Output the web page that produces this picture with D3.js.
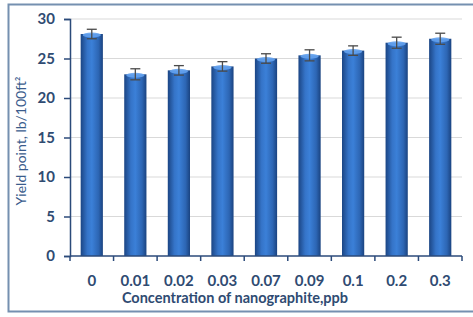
<!DOCTYPE html>
<html lang="en">
  <head>
    <meta charset="UTF-8" />
    <title>Yield point chart</title>
    <style>
      body { margin: 0; background: #fff; }
      text { font-family: Lato, "Open Sans", sans-serif; }
    </style>
  </head>
  <body>
    <svg id="svg" width="473" height="317"></svg>
    <script src="https://d3js.org/d3.v7.min.js"></script>
    <script>
      // values
      const concentrations = ["0", "0.01", "0.02", "0.03", "0.07", "0.09", "0.1", "0.2", "0.3"];
      const yieldPoint = [28.1, 23.0, 23.5, 24.0, 25.0, 25.4, 26.0, 27.0, 27.5];
      const errors = [0.6, 0.7, 0.6, 0.6, 0.6, 0.7, 0.6, 0.7, 0.7];
      const yTicks = [0, 5, 10, 15, 20, 25, 30];

      const svg = d3.select("#svg");
      const m = { left: 70, right: 11, top: 19, bottom: 61 };
      const W = 473, H = 317;

      // frame round the chart
      svg.append("path")
        .attr("d", `M ${W + 2} 4.5 H 8.5 V 311.5 H ${W + 2}`)
        .attr("fill", "none")
        .attr("stroke", "#7590b0")
        .attr("stroke-width", 2);

      const x = d3.scaleBand()
        .domain(concentrations)
        .range([m.left, W - m.right])
        .paddingInner(0.49)
        .paddingOuter(0.245);
      const y = d3.scaleLinear().domain([0, 30]).range([H - m.bottom, m.top]);

      // bar gradient, cylinder look
      const defs = svg.append("defs");
      const g = defs.append("linearGradient").attr("id", "bar").attr("x1", 0).attr("x2", 1);
      g.append("stop").attr("offset", "0%").attr("stop-color", "#1b4584");
      g.append("stop").attr("offset", "30%").attr("stop-color", "#3574c8");
      g.append("stop").attr("offset", "50%").attr("stop-color", "#3b80d8");
      g.append("stop").attr("offset", "80%").attr("stop-color", "#2d66b4");
      g.append("stop").attr("offset", "100%").attr("stop-color", "#1a4380");

      // gridlines
      svg.append("g")
        .selectAll("line")
        .data(yTicks.filter((t) => t > 0))
        .enter()
        .append("line")
        .attr("x1", m.left)
        .attr("x2", W - m.right)
        .attr("y1", (t) => y(t))
        .attr("y2", (t) => y(t))
        .attr("stroke", "#d9d9d9")
        .attr("stroke-width", 1);

      // bars
      const bars = svg.append("g")
        .selectAll("g")
        .data(concentrations)
        .enter()
        .append("g");
      bars.append("rect")
        .attr("x", (c) => x(c))
        .attr("width", x.bandwidth())
        .attr("y", (c, i) => y(yieldPoint[i]))
        .attr("height", (c, i) => y(0) - y(yieldPoint[i]))
        .attr("fill", "url(#bar)");
      bars.append("ellipse")
        .attr("cx", (c) => x(c) + x.bandwidth() / 2)
        .attr("cy", (c, i) => y(yieldPoint[i]) + 1)
        .attr("rx", x.bandwidth() / 2 - 2)
        .attr("ry", 2.5)
        .attr("fill", "#64a2ee")
        .attr("opacity", 0.9);

      // error bars
      const eb = svg.append("g").attr("stroke", "#4a4a4a").attr("stroke-width", 1.3);
      concentrations.forEach((c, i) => {
        const cx = x(c) + x.bandwidth() / 2;
        const top = y(yieldPoint[i] + errors[i]);
        const bot = y(yieldPoint[i] - errors[i]);
        eb.append("line").attr("x1", cx).attr("x2", cx).attr("y1", top).attr("y2", bot);
        eb.append("line").attr("x1", cx - 5).attr("x2", cx + 5).attr("y1", top).attr("y2", top);
        eb.append("line").attr("x1", cx - 5).attr("x2", cx + 5).attr("y1", bot).attr("y2", bot);
      });

      // y axis
      const yAxis = svg.append("g")
        .attr("transform", `translate(${m.left},0)`)
        .call(d3.axisLeft(y).tickValues(yTicks).tickSize(6).tickPadding(9));
      yAxis.select(".domain").attr("stroke", "#2b4a7a").attr("stroke-width", 1.5);
      yAxis.selectAll(".tick line").attr("stroke", "#2b4a7a").attr("stroke-width", 1.5);
      yAxis.selectAll("text")
        .attr("font-size", 15)
        .attr("font-weight", "bold")
        .attr("fill", "#2f4b72")
        .style("font-family", "Lato, sans-serif");

      // x axis, ticks between categories
      svg.append("line")
        .attr("x1", m.left).attr("x2", W - m.right)
        .attr("y1", y(0)).attr("y2", y(0))
        .attr("stroke", "#2b4a7a").attr("stroke-width", 1.5);
      const step = x.step();
      const bounds = d3.range(concentrations.length + 1).map((i) => m.left + i * step);
      svg.append("g")
        .selectAll("line")
        .data(bounds)
        .enter()
        .append("line")
        .attr("x1", (b) => b).attr("x2", (b) => b)
        .attr("y1", y(0)).attr("y2", y(0) + 5)
        .attr("stroke", "#2b4a7a").attr("stroke-width", 1.5);
      svg.append("g")
        .selectAll("text")
        .data(concentrations)
        .enter()
        .append("text")
        .attr("x", (c) => x(c) + x.bandwidth() / 2)
        .attr("y", y(0) + 30)
        .attr("text-anchor", "middle")
        .attr("font-size", 15)
        .attr("font-weight", "bold")
        .attr("fill", "#2f4b72")
        .text((c) => c);

      // axis titles
      svg.append("text")
        .attr("x", 235)
        .attr("y", 303)
        .attr("text-anchor", "middle")
        .attr("font-size", 14.5)
        .attr("font-weight", "bold")
        .attr("fill", "#2f4b72")
        .text("Concentration of nanographite,ppb");
      svg.append("text")
        .attr("transform", "translate(26,141) rotate(-90)")
        .attr("text-anchor", "middle")
        .attr("font-size", 14)
        .attr("fill", "#3a5c8c")
        .text("Yield point, lb/100ft²");
    </script>
  </body>
</html>
